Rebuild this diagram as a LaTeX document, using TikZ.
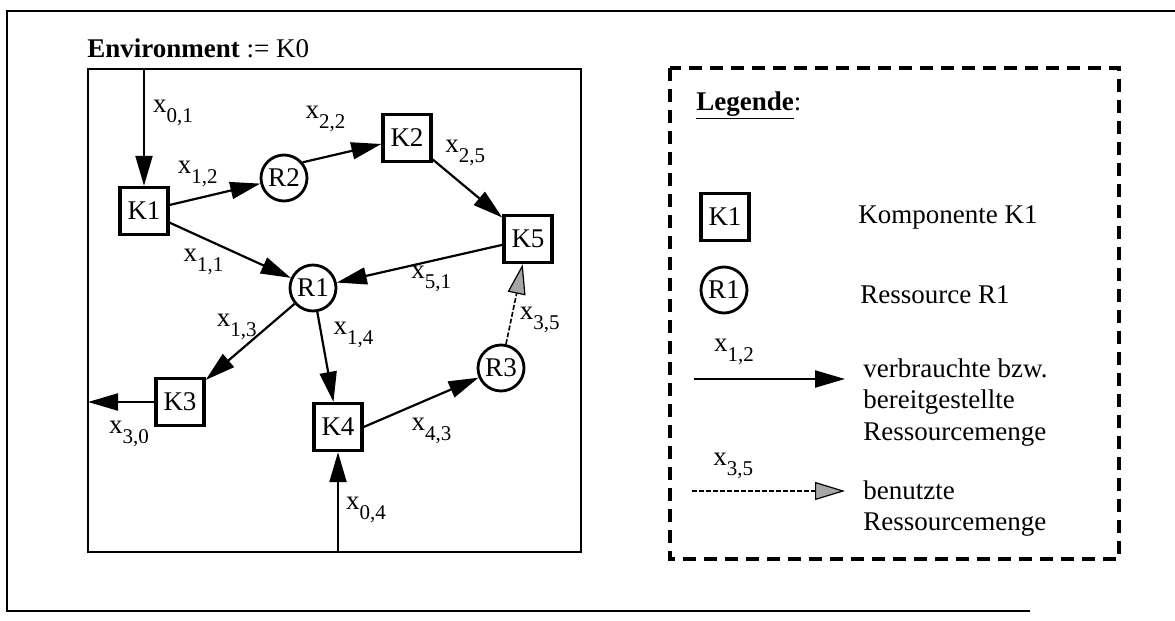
\documentclass[tikz,border=0pt]{standalone}
\usepackage{fontspec}
\setmainfont{Liberation Serif}
\usetikzlibrary{arrows.meta, positioning}

\newcommand{\xsub}[1]{x\raisebox{-5pt}{\fontsize{10.5}{12}\selectfont #1}}

\begin{document}
\begin{tikzpicture}[
  x=0.5pt, y=-0.5pt,
  font=\fontsize{13.5}{15.8}\selectfont,
  comp/.style={rectangle, draw, line width=1.7pt, minimum width=24pt,
               minimum height=23.5pt, inner sep=1pt},
  res/.style={circle, draw, line width=1.4pt, minimum size=23pt, inner sep=0pt},
  flow/.style={-{Triangle[length=15pt, width=8.5pt]}, line width=1.1pt},
  used/.style={-{Triangle[length=15pt, width=9pt, fill=gray!70, line width=0.6pt]},
               line width=0.8pt, dash pattern=on 2.5pt off 1pt},
  lbl/.style={inner sep=2pt},
  envframe/.style={draw, line width=1.4pt},
  legendbox/.style={draw, line width=1.6pt, dash pattern=on 6.5pt off 4pt},
  legtext/.style={align=left, inner sep=0pt},
]
\useasboundingbox (0,0) rectangle (1175,621);

% outer frame (right side lies outside the picture)
\draw[line width=0.9pt] (1175,11) -- (7,11) -- (7,611) -- (1030,611);

% environment K0
\coordinate (envNW) at (88,69);
\coordinate (envSE) at (581,552);
\draw[envframe] (envNW) rectangle (envSE);
\node[anchor=base west, inner sep=0pt] (envtitle) at (87,57) {\textbf{Environment} := K0};

% components and resources
\node[comp] (K1) at (144,211) {K1};
\node[comp] (K2) at (407,138) {K2};
\node[comp] (K3) at (180,402) {K3};
\node[comp] (K4) at (338,427) {K4};
\node[comp] (K5) at (528,239) {K5};
\node[res] (R1) at (313,288) {R1};
\node[res] (R2) at (284,178) {R2};
\node[res] (R3) at (501,368) {R3};

% resource flows
\draw[flow] (K1 |- envNW) -- (K1) node[pos=0.38, right=2pt, lbl] {\xsub{0,1}};
\draw[flow] (K1) -- (R2) node[pos=0.31, above=3pt, lbl] {\xsub{1,2}};
\draw[flow] (R2.40) -- (K2) node[pos=0.29, above=10pt, lbl] {\xsub{2,2}};
\draw[flow] (K2) -- (K5) node[pos=0.15, above right=-2pt, lbl] {\xsub{2,5}};
\draw[flow] (K1) -- (R1) node[pos=0.28, below=3pt, lbl] {\xsub{1,1}};
\draw[flow] (K5) -- (R1) node[pos=0.43, below=0pt, lbl] {\xsub{5,1}};
\draw[flow] (R1) -- (K3) node[pos=0.3, left=3pt, lbl] {\xsub{1,3}};
\draw[flow] (R1) -- (K4) node[pos=0.26, right=3.5pt, lbl] {\xsub{1,4}};
\draw[flow] (K3) -- (K3 -| envNW) node[pos=0.38, below=7pt, lbl] {\xsub{3,0}};
\draw[flow] (K4.east) -- (R3) node[pos=0.59, below=7.5pt, lbl] {\xsub{4,3}};
\draw[flow] (K4 |- envSE) -- (K4) node[pos=0.42, right=1.5pt, lbl] {\xsub{0,4}};
\draw[used] (R3) -- (K5) node[pos=0.3, right=2pt, lbl] {\xsub{3,5}};

% legend
\draw[legendbox] (670,68) rectangle (1119,559);
\node[anchor=base west, inner sep=0pt] (legtitle) at (696,110) {\underline{\textbf{Legende}}:};
\node[comp] (lK1) at (725,217) {K1};
\node[res] (lR1) at (724,290) {R1};
\node[anchor=west, inner sep=0pt] (lKtext) at (858,217) {Komponente K1};
\node[anchor=west, inner sep=0pt] (lRtext) at (860,295) {Ressource R1};

\coordinate (lflowA) at (694,379);
\coordinate (lflowB) at (845,379);
\draw[flow] (lflowA) -- (lflowB) node[pos=0.265, above=4.5pt, lbl] {\xsub{1,2}};
\node[legtext, anchor=north west] (lflowtext) at (863,358)
  {verbrauchte bzw.\\bereitgestellte\\Ressourcemenge};

\coordinate (lusedA) at (692,491);
\coordinate (lusedB) at (845,491);
\draw[used] (lusedA) -- (lusedB) node[pos=0.27, above=3.5pt, lbl] {\xsub{3,5}};
\node[legtext, anchor=north west] (lusedtext) at (863,480)
  {benutzte\\Ressourcemenge};
\end{tikzpicture}
\end{document}
